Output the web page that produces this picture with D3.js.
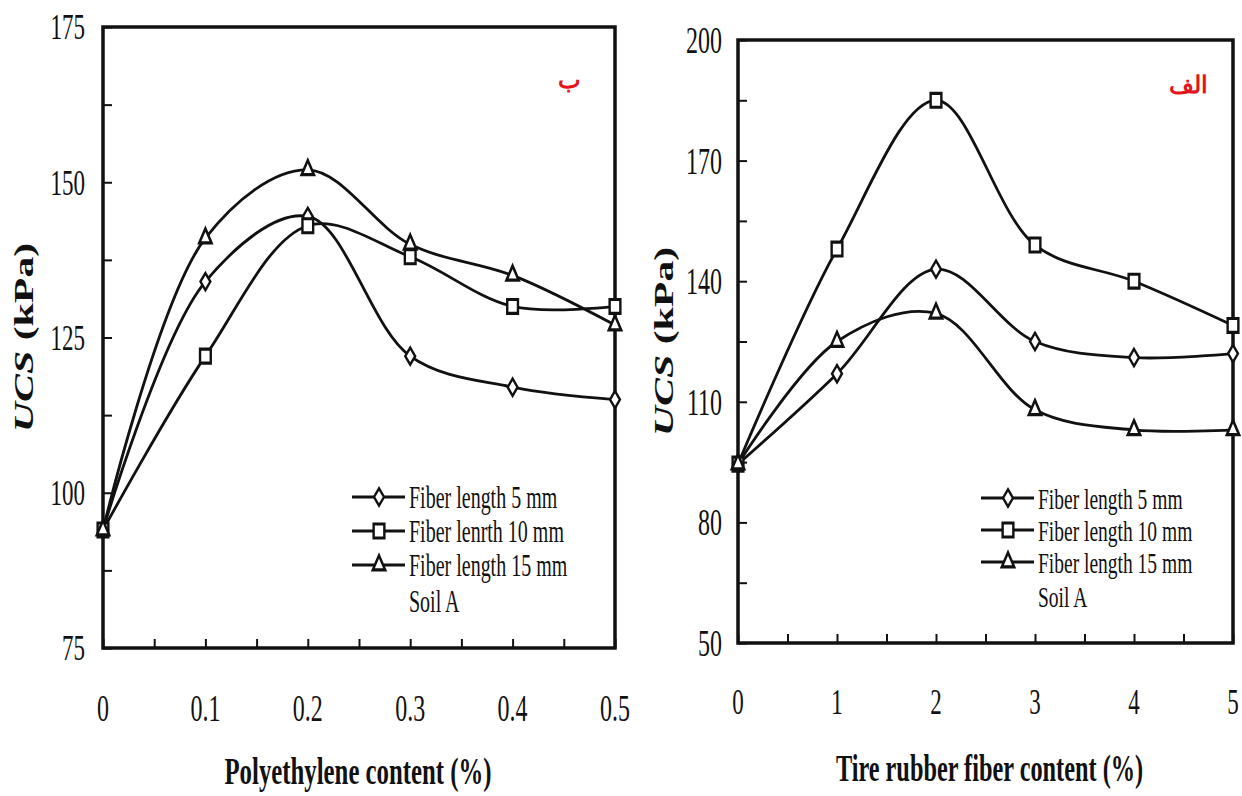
<!DOCTYPE html>
<html lang="en">
<head>
<meta charset="UTF-8">
<title>UCS vs fiber content</title>
<script src="https://cdn.jsdelivr.net/npm/d3@7"></script>
<style>
  body { margin: 0; background: #fff; }
  text { font-family: "Liberation Serif", "Times New Roman", serif; fill: #111; }
</style>
</head>
<body>
<script>
// ---- data ----
var peContent = [0, 0.1, 0.2, 0.3, 0.4, 0.5];
var peLen5  = [94, 134, 144.5, 122, 117, 115];
var peLen10 = [94, 122, 143, 138, 130, 130];
var peLen15 = [94, 141, 152, 140, 135, 127];
var peYTicks = [75, 100, 125, 150, 175];
var peLegend = ["Fiber length 5 mm", "Fiber lenrth 10 mm", "Fiber length 15 mm"];

var trContent = [0, 1, 2, 3, 4, 5];
var trLen5  = [94.5, 117, 143, 125, 121, 122];
var trLen10 = [94.5, 148, 185, 149, 140, 129];
var trLen15 = [94.5, 125, 132, 108, 103, 103];
var trYTicks = [50, 80, 110, 140, 170, 200];
var trLegend = ["Fiber length 5 mm", "Fiber length 10 mm", "Fiber length 15 mm"];

var markers = ["diamond", "square", "triangle"];

var W = 1242, H = 796;
var STRETCH = 1.55; // the source figure is stretched vertically

var svg = d3.select("body").append("svg")
    .attr("width", W)
    .attr("height", H);

// text helper: stretched vertically like the source picture
function label(g, x, y, str, size, opts) {
    opts = opts || {};
    var t = g.append("text")
        .attr("transform", "translate(" + x + "," + y + ") scale(1," + STRETCH + ")" + (opts.rotate ? " rotate(" + opts.rotate + ")" : ""))
        .attr("font-size", size)
        .attr("text-anchor", opts.anchor || "middle")
        .attr("dy", "0.35em")
        .text(str);
    if (opts.bold) t.attr("font-weight", "bold");
    return t;
}

function marker(g, type, x, y) {
    if (type === "diamond") {
        g.append("path")
            .attr("d", d3.symbol(d3.symbolDiamond, 85)())
            .attr("transform", "translate(" + x + "," + y + ")");
    } else if (type === "square") {
        g.append("path")
            .attr("d", d3.symbol(d3.symbolSquare, 115)())
            .attr("transform", "translate(" + x + "," + y + ") scale(1,1.3)");
    } else {
        g.append("path")
            .attr("d", d3.symbol(d3.symbolTriangle, 65)())
            .attr("transform", "translate(" + x + "," + y + ") scale(1,1.35)");
    }
}

function panel(cfg) {
    var g = svg.append("g");
    var x = d3.scaleLinear().domain(cfg.xDomain).range([cfg.left, cfg.right]);
    var y = d3.scaleLinear().domain(cfg.yDomain).range([cfg.bottom, cfg.top]);

    // inward minor ticks
    g.append("g")
        .attr("transform", "translate(0," + cfg.bottom + ")")
        .call(d3.axisBottom(x).tickValues(d3.range(cfg.xDomain[0], cfg.xDomain[1] + 1e-9, cfg.xMinor)).tickSize(-9).tickFormat(""))
        .call(function (a) { a.select(".domain").remove(); a.selectAll("line").attr("stroke", "#111").attr("stroke-width", 2); });
    g.append("g")
        .attr("transform", "translate(" + cfg.left + ",0)")
        .call(d3.axisLeft(y).tickValues(d3.range(cfg.yDomain[0], cfg.yDomain[1] + 1e-9, cfg.yMinor)).tickSize(-9).tickFormat(""))
        .call(function (a) { a.select(".domain").remove(); a.selectAll("line").attr("stroke", "#111").attr("stroke-width", 2); });

    // frame
    g.append("rect")
        .attr("x", cfg.left).attr("y", cfg.top)
        .attr("width", cfg.right - cfg.left).attr("height", cfg.bottom - cfg.top)
        .attr("fill", "none").attr("stroke", "#111").attr("stroke-width", 3.5);

    // tick labels
    cfg.xValues.forEach(function (v) {
        label(g, x(v), cfg.xLabelY, cfg.xFormat(v), cfg.xTickSize);
    });
    cfg.yTicks.forEach(function (v) {
        label(g, cfg.left - cfg.yLabelPad, y(v), v, cfg.yTickSize, {anchor: "end"});
    });

    // axis titles
    label(g, (cfg.left + cfg.right) / 2 + cfg.titleShift, cfg.xTitleY, cfg.xTitle, cfg.titleSize, {bold: true});
    var yt = label(g, cfg.yTitleX, (cfg.top + cfg.bottom) / 2, "", cfg.yTitleSize, {bold: true, rotate: -90});
    yt.append("tspan").attr("font-style", "italic").text("UCS");
    yt.append("tspan").text(" (kPa)");

    // series
    var line = d3.line()
        .x(function (d) { return x(d[0]); })
        .y(function (d) { return y(d[1]); })
        .curve(d3.curveCatmullRom.alpha(0.5));

    cfg.series.forEach(function (vals, i) {
        var pts = cfg.xValues.map(function (v, j) { return [v, vals[j]]; });
        g.append("path")
            .attr("d", line(pts))
            .attr("fill", "none")
            .attr("stroke", "#111")
            .attr("stroke-width", 2.8);
    });
    var mg = g.append("g").attr("fill", "#fff").attr("stroke", "#111").attr("stroke-width", 2.4);
    cfg.series.forEach(function (vals, i) {
        cfg.xValues.forEach(function (v, j) {
            marker(mg, markers[i], x(v), y(vals[j]));
        });
    });

    // legend
    var lg = g.append("g");
    cfg.legend.forEach(function (name, i) {
        var ly = cfg.legY + i * cfg.legStep;
        lg.append("line")
            .attr("x1", cfg.legX).attr("x2", cfg.legX + 53)
            .attr("y1", ly).attr("y2", ly)
            .attr("stroke", "#111").attr("stroke-width", 3);
        var m = lg.append("g").attr("fill", "#fff").attr("stroke", "#111").attr("stroke-width", 2.4);
        marker(m, markers[i], cfg.legX + 27, ly);
        label(lg, cfg.legX + 57, ly, name, cfg.legSize, {anchor: "start"});
    });
    label(lg, cfg.legX + 57, cfg.legY + 3 * cfg.legStep + 2, "Soil A", cfg.legSize, {anchor: "start"});

    // panel letter (Persian)
    svg.append("text")
        .attr("x", cfg.tagX).attr("y", cfg.tagY)
        .attr("text-anchor", "middle")
        .attr("font-family", "DejaVu Sans, Noto Sans, sans-serif")
        .attr("font-weight", "bold")
        .attr("font-size", 24)
        .style("fill", "#e3141c")
        .text(cfg.tag);
}

panel({
    left: 103, right: 615, top: 27, bottom: 648,
    xDomain: [0, 0.5], yDomain: [75, 175],
    xMinor: 0.05, yMinor: 12.5,
    xValues: peContent, yTicks: peYTicks,
    xFormat: function (v) { return v === 0 ? "0" : d3.format(".1f")(v); },
    xLabelY: 708, xTickSize: 24, yTickSize: 23, yLabelPad: 18,
    xTitle: "Polyethylene content (%)", xTitleY: 771, titleSize: 24.8, titleShift: -1,
    yTitleX: 24, yTitleSize: 27,
    series: [peLen5, peLen10, peLen15], legend: peLegend,
    legX: 352, legY: 497, legStep: 34, legSize: 20,
    tag: "ب", tagX: 569, tagY: 88
});

panel({
    left: 738, right: 1233, top: 40, bottom: 643,
    xDomain: [0, 5], yDomain: [50, 200],
    xMinor: 0.5, yMinor: 15,
    xValues: trContent, yTicks: trYTicks,
    xFormat: function (v) { return v; },
    xLabelY: 702, xTickSize: 23, yTickSize: 24, yLabelPad: 16,
    xTitle: "Tire rubber fiber content (%)", xTitleY: 768, titleSize: 24.3, titleShift: 4,
    yTitleX: 664, yTitleSize: 27,
    series: [trLen5, trLen10, trLen15], legend: trLegend,
    legX: 981, legY: 498, legStep: 32, legSize: 19.5,
    tag: "الف", tagX: 1188, tagY: 93
});
</script>
</body>
</html>
